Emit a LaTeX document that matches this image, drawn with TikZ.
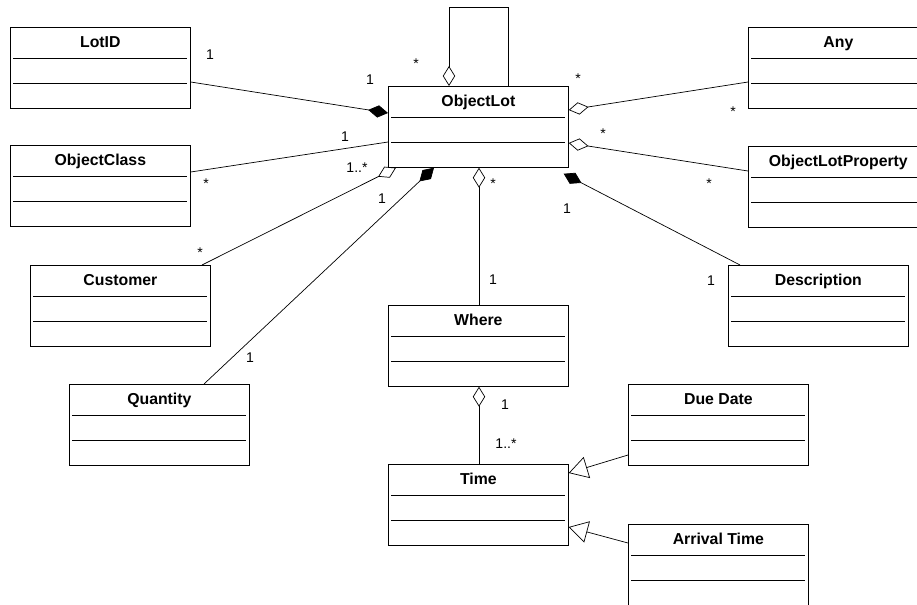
\documentclass[tikz,border=0pt]{standalone}
\usepackage{fontspec}
\setmainfont{Liberation Sans}
\usetikzlibrary{arrows.meta,calc}

\begin{document}
\begin{tikzpicture}[
                x=0.03cm, y=-0.03cm,
                line width=0.6pt,
                umlclass/.style={draw, anchor=north west, minimum width=5.4cm,
                    inner ysep=0pt, text height=0.6cm, text depth=1.83cm,
                    font=\fontsize{13.5}{15}\selectfont\bfseries,
                    path picture={
                        \draw ([xshift=0.09cm,yshift=-0.93cm]path picture bounding box.north west)
                            -- ([xshift=-0.09cm,yshift=-0.93cm]path picture bounding box.north east);
                        \draw ([xshift=0.09cm,yshift=-1.68cm]path picture bounding box.north west)
                            -- ([xshift=-0.09cm,yshift=-1.68cm]path picture bounding box.north east);
                    }},
                mult/.style={anchor=base, inner sep=0pt, font=\fontsize{12}{14}\selectfont},
                comp/.style={-{Diamond[length=0.6cm,width=0.37cm]}},
                aggr/.style={-{Diamond[open,length=0.6cm,width=0.37cm]}},
                gen/.style={-{Triangle[open,length=0.57cm,width=0.66cm]}}
            ]

            \path[use as bounding box, fill=white] (0,0) rectangle (917,604);

            \node[umlclass] (LotID) at (10,27) {LotID};
            \node[umlclass] (ObjectClass) at (10,145) {ObjectClass};
            \node[umlclass] (Customer) at (30,265) {Customer};
            \node[umlclass] (Quantity) at (69,384) {Quantity};
            \node[umlclass] (ObjectLot) at (388,86) {ObjectLot};
            \node[umlclass] (Any) at (748,27) {Any};
            \node[umlclass] (ObjectLotProperty) at (748,146) {ObjectLotProperty};
            \node[umlclass] (Description) at (728,265) {Description};
            \node[umlclass] (Where) at (388,305) {Where};
            \node[umlclass] (Time) at (388,464) {Time};
            \node[umlclass] (DueDate) at (628,384) {Due Date};
            \node[umlclass] (ArrivalTime) at (628,524) {Arrival Time};

            \draw[comp] ($(LotID.north east)+(0,55)$) -- ($(ObjectLot.north west)+(0,27)$);
            \draw ($(ObjectClass.north east)+(0,27)$) -- ($(ObjectLot.north west)+(0,56)$);
            \draw[aggr] ($(Customer.north west)+(172,0)$) -- ($(ObjectLot.south west)+(8,0)$);
            \draw[comp] ($(Quantity.north west)+(135,0)$) -- ($(ObjectLot.south west)+(46,0)$);
            \draw[aggr] ($(Where.north west)+(91,0)$) -- ($(ObjectLot.south west)+(91,0)$);
            \draw[comp] ($(Description.north west)+(12,0)$) -- ($(ObjectLot.south east)+(-5,6)$);
            \draw[aggr] ($(Any.north west)+(0,55)$) -- ($(ObjectLot.north east)+(0,24)$);
            \draw[aggr] ($(ObjectLotProperty.north west)+(0,25)$) -- ($(ObjectLot.north east)+(0,57)$);
            \draw[aggr] ($(Time.north west)+(91,0)$) -- ($(Where.south west)+(91,0)$);
            \draw[gen] ($(DueDate.north west)+(0,71)$) -- ($(Time.north east)+(0,9)$);
            \draw[gen] ($(ArrivalTime.north west)+(0,19)$) -- ($(Time.north east)+(0,63)$);
            \draw[aggr] ($(ObjectLot.north west)+(120,0)$) |- ($(ObjectLot.north west)+(61,-79)$)
                -- ($(ObjectLot.north west)+(61,0)$);

            \node[mult] (m-lotid) at (210,59) {1};
            \node[mult] (m-lotid-ol) at (370,84) {1};
            \node[mult] (m-self) at (416,68) {*};
            \node[mult] (m-class-ol) at (345,141) {1};
            \node[mult] (m-class) at (206,188) {*};
            \node[mult] (m-cust-ol) at (357,172) {1..*};
            \node[mult] (m-qty-ol) at (382,203) {1};
            \node[mult] (m-cust) at (200,257) {*};
            \node[mult] (m-qty) at (250,362) {1};
            \node[mult] (m-where-ol) at (493,188) {*};
            \node[mult] (m-where) at (493,284) {1};
            \node[mult] (m-desc-ol) at (567,213) {1};
            \node[mult] (m-desc) at (711,285) {1};
            \node[mult] (m-any-ol) at (578,83) {*};
            \node[mult] (m-any) at (733,116) {*};
            \node[mult] (m-prop-ol) at (603,138) {*};
            \node[mult] (m-prop) at (709,188) {*};
            \node[mult] (m-where-time) at (505,409) {1};
            \node[mult] (m-time) at (506,448) {1..*};

        \end{tikzpicture}
\end{document}
